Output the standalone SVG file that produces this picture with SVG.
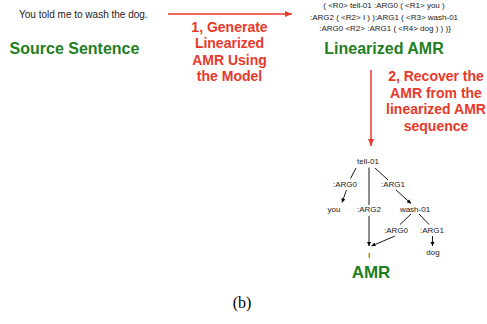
<svg xmlns="http://www.w3.org/2000/svg" width="487" height="324" viewBox="0 0 487 324">
<style>
.s{font-family:"Liberation Sans",Arial,sans-serif;font-size:8px;fill:#222;text-anchor:middle}
.src{font-family:"Liberation Sans",Arial,sans-serif;font-size:10px;fill:#222}
.g{font-family:"Liberation Sans",Arial,sans-serif;font-weight:bold;fill:#1f7f1f;text-anchor:middle}
.r{font-family:"Liberation Sans",Arial,sans-serif;font-weight:bold;font-size:14px;fill:#e8392b;text-anchor:middle}
.e{stroke:#000;stroke-width:0.9;fill:none}
.ra{stroke:#e8392b;stroke-width:1.5;fill:none}
.cap{font-family:"Liberation Serif","Times New Roman",serif;font-size:16px;fill:#000;text-anchor:middle}
</style>
<defs>
<marker id="ar" markerUnits="userSpaceOnUse" markerWidth="8" markerHeight="7" refX="7" refY="3" orient="auto">
<path d="M0,0 L7,3 L0,6 z" fill="#e8392b"/>
</marker>
<marker id="ab" markerUnits="userSpaceOnUse" markerWidth="5" markerHeight="5" refX="4" refY="2" orient="auto">
<path d="M0,0 L4,2 L0,4 z" fill="#000"/>
</marker>
</defs>
<g id="source">
<text class="src" x="19" y="17.5">You told me to wash the dog.</text>
<text class="g" x="74.5" y="54" font-size="16">Source Sentence</text>
</g>
<g id="linearized">
<text class="s" x="384" y="8">( &lt;R0&gt; tell-01 :ARG0 ( &lt;R1&gt; you )</text>
<text class="s" x="384" y="19.5">:ARG2 ( &lt;R2&gt; I ) ):ARG1 ( &lt;R3&gt; wash-01</text>
<text class="s" x="385" y="31">:ARG0 &lt;R2&gt; :ARG1 ( &lt;R4&gt; dog ) ) )}</text>
<text class="g" x="384" y="54" font-size="16">Linearized AMR</text>
</g>
<g id="step1">
<text class="r" x="229.5" y="31.5">1, Generate</text>
<text class="r" x="229.5" y="48">Linearized</text>
<text class="r" x="229.5" y="64.5">AMR Using</text>
<text class="r" x="229.5" y="81">the Model</text>
</g>
<g id="step2">
<text class="r" x="436" y="81">2, Recover the</text>
<text class="r" x="436" y="97.5">AMR from the</text>
<text class="r" x="436" y="114">linearized AMR</text>
<text class="r" x="436" y="130.5">sequence</text>
</g>
<g id="amr-tree">
<g id="n-tell"><text class="s" x="368" y="164">tell-01</text></g>
<g id="n-arg0a"><text class="s" x="345" y="187">:ARG0</text></g>
<g id="n-arg1a"><text class="s" x="393" y="187">:ARG1</text></g>
<g id="n-you"><text class="s" x="334" y="211.5">you</text></g>
<g id="n-arg2"><text class="s" x="369" y="211.5">:ARG2</text></g>
<g id="n-wash"><text class="s" x="415" y="211.5">wash-01</text></g>
<g id="n-arg0b"><text class="s" x="396" y="232.5">:ARG0</text></g>
<g id="n-arg1b"><text class="s" x="432" y="232.5">:ARG1</text></g>
<g id="n-i"><text class="s" x="369" y="258">I</text></g>
<g id="n-dog"><text class="s" x="433" y="254.5">dog</text></g>
<g id="amr-label"><text class="g" x="371" y="278" font-size="17">AMR</text></g>
</g>
<g id="connectors">
<line class="ra" x1="168" y1="14" x2="292" y2="14" marker-end="url(#ar)"/>
<line class="ra" x1="371" y1="70" x2="371" y2="146" marker-end="url(#ar)"/>
<line class="e" x1="356" y1="168" x2="350.5" y2="178.5"/>
<line class="e" x1="369" y1="167.5" x2="369" y2="205"/>
<line class="e" x1="375" y1="168" x2="388" y2="180"/>
<line class="e" x1="346.5" y1="190" x2="342" y2="202.5" marker-end="url(#ab)"/>
<line class="e" x1="396" y1="190" x2="411" y2="203.5" marker-end="url(#ab)"/>
<line class="e" x1="369" y1="216" x2="369" y2="246" marker-end="url(#ab)"/>
<line class="e" x1="411" y1="214" x2="400" y2="224.5"/>
<line class="e" x1="419" y1="214" x2="429" y2="224.5"/>
<line class="e" x1="395" y1="236" x2="371.5" y2="246" marker-end="url(#ab)"/>
<line class="e" x1="432.5" y1="236" x2="432.5" y2="246" marker-end="url(#ab)"/>
</g>
<text class="cap" x="242" y="308">(b)</text>
</svg>
